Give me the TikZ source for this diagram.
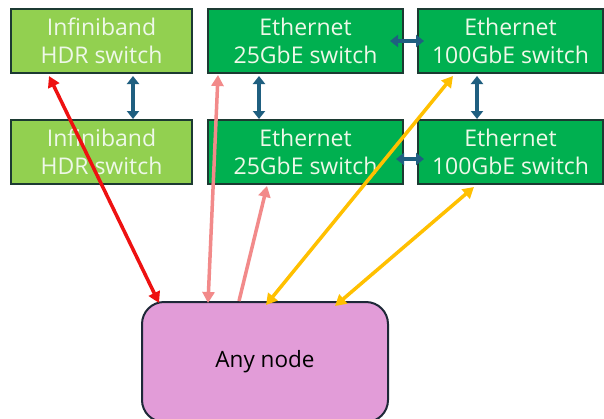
\documentclass[tikz,border=0pt]{standalone}
\usepackage{fontspec}
\setmainfont{Open Sans}
\usetikzlibrary{arrows.meta}
\definecolor{ibgreen}{HTML}{92D050}
\definecolor{ethgreen}{HTML}{00B050}
\definecolor{boxline}{HTML}{1C3A32}
\definecolor{boxtext}{HTML}{EEF8E8}
\definecolor{nodefill}{HTML}{E29CD8}
\definecolor{nodeline}{HTML}{1E2838}
\definecolor{linkblue}{HTML}{1F5F80}
\definecolor{ibred}{HTML}{EE1111}
\definecolor{ethpink}{HTML}{F28A8A}
\definecolor{ethgold}{HTML}{FFC000}
\tikzset{
  switchbox/.style={draw=boxline, line width=2pt, minimum height=64pt,
    inner sep=0pt, text=boxtext, align=center,
    font=\fontsize{23}{28}\selectfont},
  ibbox/.style={switchbox, fill=ibgreen, minimum width=181pt},
  ethbox/.style={switchbox, fill=ethgreen},
  hostbox/.style={draw=nodeline, line width=2pt, fill=nodefill,
    rounded corners=22pt, minimum width=246pt, minimum height=120pt,
    inner sep=0pt, font=\fontsize{22.5}{26}\selectfont},
  interlink/.style={draw=linkblue, line width=3.5pt,
    {Triangle[width=12pt,length=8pt]}-{Triangle[width=12pt,length=8pt]}},
  uplink/.style={line width=3.5pt,
    {Triangle[width=12pt,length=11pt]}-{Triangle[width=12pt,length=11pt]}},
  uponly/.style={line width=3.5pt, -{Triangle[width=12pt,length=11pt]}}
}
\begin{document}
\begin{tikzpicture}[x=1pt,y=-1pt]
\useasboundingbox (0,0) rectangle (604,418);
\fill[white] (0,0) rectangle (604,418);

% switches
\node[ibbox] (ib1) at (101.5,41) {Infiniband\\HDR switch};
\node[ibbox] (ib2) at (101.5,152) {Infiniband\\HDR switch};
\node[ethbox, minimum width=195pt] (e25a) at (305.5,41) {Ethernet\\25GbE switch};
\node[ethbox, minimum width=195pt] (e25b) at (305.5,152) {Ethernet\\25GbE switch};
\node[ethbox, minimum width=185pt] (e100a) at (510.5,41) {Ethernet\\100GbE switch};
\node[ethbox, minimum width=185pt] (e100b) at (510.5,152) {Ethernet\\100GbE switch};

% compute node
\node[hostbox] (host) at (265,362) {Any node};

% links between switches
\draw[interlink] ([xshift=31.5pt,yshift=-2pt]ib1.south) -- ([xshift=31.5pt]ib2.north);
\draw[interlink] ([xshift=-46.5pt,yshift=-2pt]e25a.south) -- ([xshift=-46.5pt]e25b.north);
\draw[interlink] ([xshift=-33.5pt,yshift=-2pt]e100a.south) -- ([xshift=-33.5pt]e100b.north);
\draw[interlink] ([xshift=-14pt]e25a.east) -- ([xshift=7pt]e100a.west);
\draw[interlink] ([xshift=-8pt,yshift=-7pt]e25b.east) -- ([xshift=7pt,yshift=-7pt]e100b.west);

% links from the node to the switches
\draw[uplink, ibred] ([xshift=39pt,yshift=-2pt]ib1.south west) -- ([xshift=18pt,yshift=-2pt]host.north west);
\draw[uplink, ethpink] ([xshift=11pt,yshift=-1pt]e25a.south west) -- ([xshift=67pt,yshift=-2pt]host.north west);
\draw[uponly, ethpink] ([xshift=98pt]host.north west) -- ([xshift=60pt,yshift=-1pt]e25b.south west);
\draw[uplink, ethgold] ([xshift=36pt,yshift=-2pt]e100a.south west) -- ([xshift=125pt,yshift=-4pt]host.north west);
\draw[uplink, ethgold] ([xshift=57pt,yshift=-2pt]e100b.south west) -- ([xshift=194pt,yshift=-5pt]host.north west);
\end{tikzpicture}
\end{document}
